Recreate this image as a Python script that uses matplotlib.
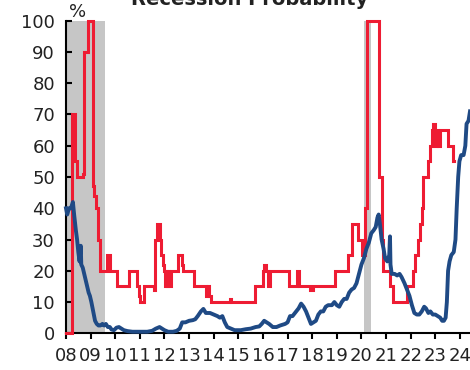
import matplotlib
matplotlib.use("Agg")
import matplotlib.pyplot as plt

# ---------------- data ----------------
red_x = [2008.00, 2008.26, 2008.38, 2008.45, 2008.70, 2008.74, 2008.88, 2009.08, 2009.15, 2009.22,
         2009.30, 2009.37, 2009.66, 2009.80, 2010.07, 2010.54, 2010.88, 2010.97, 2011.00, 2011.15,
         2011.56, 2011.62, 2011.68, 2011.80, 2011.84, 2011.92, 2011.98, 2012.03, 2012.08, 2012.12,
         2012.16, 2012.20, 2012.25, 2012.55, 2012.70, 2012.77, 2013.18, 2013.68, 2013.75, 2013.80,
         2013.90, 2014.65, 2014.70, 2015.68, 2015.99, 2016.05, 2016.12, 2016.20, 2016.30, 2017.07,
         2017.40, 2017.48, 2017.93, 2018.05, 2018.93, 2019.47, 2019.61, 2019.87, 2020.03, 2020.16,
         2020.22, 2020.73, 2020.82, 2020.89, 2021.16, 2021.30, 2021.84, 2022.11, 2022.18, 2022.31,
         2022.38, 2022.45, 2022.51, 2022.72, 2022.78, 2022.85, 2022.92, 2022.99, 2023.06, 2023.12,
         2023.19, 2023.53, 2023.73, 2023.78]
red_y = [0, 70, 55, 50, 51, 90, 100, 47, 44, 40,
         30, 20, 25, 20, 15, 20, 15, 12, 10, 15,
         14, 30, 35, 30, 25, 22, 20, 15, 20, 15,
         20, 15, 20, 25, 22, 20, 15, 12, 15, 12,
         10, 11, 10, 15, 20, 22, 20, 15, 20, 15,
         20, 15, 14, 15, 20, 25, 35, 30, 25, 40,
         100, 50, 30, 20, 15, 10, 15, 20, 25, 30,
         35, 40, 50, 55, 60, 65, 67, 60, 65, 60,
         65, 60, 55, 55]

blue_x = [2008.00, 2008.05, 2008.12, 2008.20, 2008.28, 2008.33, 2008.40, 2008.45, 2008.50, 2008.55,
          2008.60, 2008.62, 2008.68, 2008.74, 2008.80, 2008.86, 2008.92, 2008.97, 2009.03, 2009.08,
          2009.13, 2009.18, 2009.25, 2009.32, 2009.40, 2009.48, 2009.55, 2009.62, 2009.70, 2009.78,
          2009.85, 2009.95, 2010.05, 2010.15, 2010.25, 2010.35, 2010.50, 2010.70, 2011.00, 2011.30,
          2011.50, 2011.65, 2011.80, 2011.90, 2012.00, 2012.15, 2012.35, 2012.50, 2012.62, 2012.72,
          2012.85, 2013.00, 2013.15, 2013.25, 2013.35, 2013.48, 2013.58, 2013.68, 2013.85, 2014.00,
          2014.15, 2014.25, 2014.35, 2014.45, 2014.55, 2014.70, 2014.85, 2015.10, 2015.30, 2015.50,
          2015.70, 2015.85, 2015.95, 2016.05, 2016.15, 2016.25, 2016.40, 2016.55, 2016.70, 2016.90,
          2017.00, 2017.10, 2017.20, 2017.30, 2017.45, 2017.55, 2017.65, 2017.75, 2017.85, 2017.95,
          2018.05, 2018.15, 2018.25, 2018.35, 2018.45, 2018.55, 2018.65, 2018.80, 2018.90, 2019.00,
          2019.10, 2019.20, 2019.30, 2019.40, 2019.50, 2019.60, 2019.70, 2019.80, 2019.90, 2020.00,
          2020.10, 2020.20, 2020.30, 2020.40, 2020.50, 2020.58, 2020.65, 2020.70, 2020.75, 2020.82,
          2020.90, 2020.96, 2021.05, 2021.13, 2021.16, 2021.18, 2021.23, 2021.35, 2021.45, 2021.55,
          2021.63, 2021.75, 2021.85, 2021.95, 2022.05, 2022.15, 2022.25, 2022.35, 2022.45, 2022.55,
          2022.62, 2022.72, 2022.80, 2022.90, 2023.00, 2023.10, 2023.20, 2023.28, 2023.35, 2023.42,
          2023.47, 2023.52, 2023.58, 2023.65, 2023.75, 2023.82, 2023.87, 2023.93, 2023.98, 2024.05,
          2024.15, 2024.22, 2024.27, 2024.35, 2024.41]
blue_y = [40, 38, 40, 40, 42, 38, 33, 30, 26, 23,
          28, 22, 21, 19, 17, 15, 13, 12, 10, 8,
          6, 4, 3, 2.5, 2.5, 3, 2.5, 3, 2, 2,
          1.2, 1, 1.8, 2, 1.5, 1, 0.7, 0.5, 0.5, 0.5,
          0.8, 1.5, 2, 1.5, 1, 0.5, 0.5, 0.8, 1.5, 3.5,
          3.5, 4, 4.2, 4.5, 5.5, 7, 7.8, 6.5, 6.5, 6,
          5.5, 5, 5.5, 3.5, 2, 1.5, 1, 1, 1.3, 1.5,
          2, 2.2, 3, 4, 3.5, 3, 2, 2, 2.5, 3,
          3.5, 5.5, 5.5, 6.5, 8, 9.5, 8.5, 7, 5, 3,
          3.5, 4, 6, 7, 7, 8.5, 9, 9, 10, 9,
          8.5, 10, 11, 11, 13, 14, 14.5, 16, 19, 22,
          24, 27, 29, 32, 33, 34, 37, 38, 35, 30,
          27, 24, 23, 25, 31, 22, 19, 19, 18.5, 19,
          18, 16, 14, 12, 9, 6.5, 6, 6, 7, 8.5,
          8, 6.5, 7, 6, 6, 5.5, 5, 4, 4, 5,
          10, 20, 23, 25, 26, 30, 40, 50, 55, 57,
          57, 60, 67, 68, 71]

recessions = [(2007.9, 2009.58), (2020.12, 2020.40)]
year_ticks = list(range(2008, 2025))
year_labels = [f"{y % 100:02d}" for y in year_ticks]
y_ticks = list(range(0, 101, 10))

RED = "#EE1C33"
BLUE = "#1F4A85"
GRAY = "#C6C6C6"

fig = plt.figure(figsize=(4.7, 3.7), dpi=100)
ax = fig.add_axes([66 / 470, 1 - 333.3 / 370, 1 - 66 / 470, (333.3 - 20.7) / 370])

for a, b in recessions:
    ax.axvspan(a, b, color=GRAY, lw=0, zorder=1)

ax.plot(red_x, red_y, drawstyle="steps-post", color=RED, lw=2.2, zorder=3,
        clip_on=False, solid_joinstyle="miter")
ax.plot(blue_x, blue_y, color=BLUE, lw=2.8, zorder=4, clip_on=False)

ax.set_xlim(2008.0, 2024.41)
ax.set_ylim(0, 100)
ax.set_xticks(year_ticks)
ax.set_xticklabels(year_labels)
ax.set_yticks(y_ticks)

for s in ["top", "right"]:
    ax.spines[s].set_visible(False)
for s in ["left", "bottom"]:
    ax.spines[s].set_linewidth(1.5)
    ax.spines[s].set_color("black")

ax.tick_params(axis="y", direction="in", length=4.5, width=1.5, labelsize=13,
               pad=8, colors="black", labelcolor="#222222")
ax.tick_params(axis="x", direction="out", length=4, width=1.5, labelsize=13,
               pad=6, colors="black", labelcolor="#222222")

fig.text(78 / 470, 1 - 17 / 370, "%", ha="center", va="baseline", fontsize=13,
         color="#222222")
fig.text(250 / 470, 1 - 5 / 370, "Recession Probability", ha="center", va="baseline",
         fontsize=14, fontweight="bold", color="#222222")

fig.savefig("out.png", dpi=100)
